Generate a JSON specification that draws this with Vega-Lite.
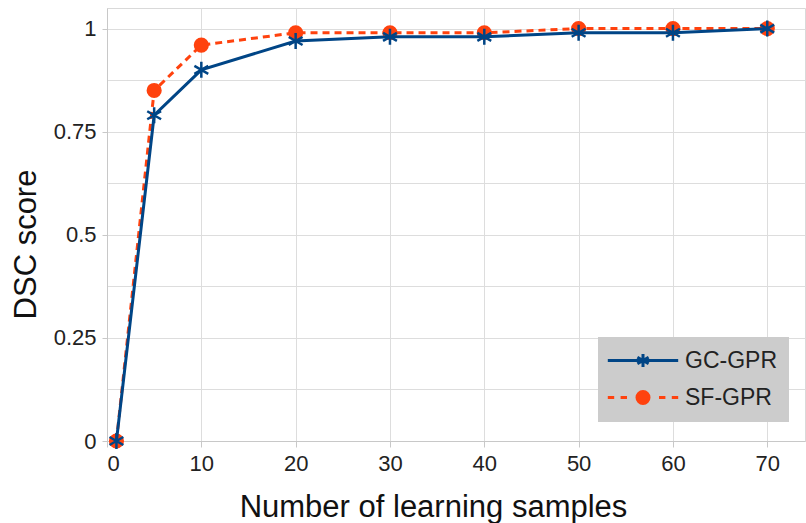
{
  "$schema": "https://vega.github.io/schema/vega-lite/v6.json",
  "width": 698,
  "height": 433,
  "autosize": {"type": "none"},
  "padding": {"left": 107, "top": 8, "right": 1, "bottom": 82},
  "background": "#ffffff",
  "config": {
    "font": "Liberation Sans",
    "view": {"stroke": "#d9d9d9", "strokeWidth": 1},
    "axis": {
      "labelFont": "Liberation Sans",
      "titleFont": "Liberation Sans",
      "labelFontSize": 22,
      "labelColor": "#222222",
      "titleColor": "#111111",
      "titleFontWeight": "normal",
      "titleFontSize": 31,
      "gridColor": "#dddddd",
      "gridWidth": 1,
      "domainColor": "#c8c8c8",
      "tickColor": "#c8c8c8",
      "tickSize": 5
    }
  },
  "data": {
    "values": [
      {"n": 1, "series": "GC-GPR", "dsc": 0},
      {"n": 5, "series": "GC-GPR", "dsc": 0.79},
      {"n": 10, "series": "GC-GPR", "dsc": 0.9},
      {"n": 20, "series": "GC-GPR", "dsc": 0.97},
      {"n": 30, "series": "GC-GPR", "dsc": 0.98},
      {"n": 40, "series": "GC-GPR", "dsc": 0.98},
      {"n": 50, "series": "GC-GPR", "dsc": 0.99},
      {"n": 60, "series": "GC-GPR", "dsc": 0.99},
      {"n": 70, "series": "GC-GPR", "dsc": 1.0},
      {"n": 1, "series": "SF-GPR", "dsc": 0},
      {"n": 5, "series": "SF-GPR", "dsc": 0.85},
      {"n": 10, "series": "SF-GPR", "dsc": 0.96},
      {"n": 20, "series": "SF-GPR", "dsc": 0.99},
      {"n": 30, "series": "SF-GPR", "dsc": 0.99},
      {"n": 40, "series": "SF-GPR", "dsc": 0.99},
      {"n": 50, "series": "SF-GPR", "dsc": 1.0},
      {"n": 60, "series": "SF-GPR", "dsc": 1.0},
      {"n": 70, "series": "SF-GPR", "dsc": 1.0}
    ]
  },
  "encoding": {
    "x": {
      "field": "n",
      "type": "quantitative",
      "scale": {"domain": [0, 74], "nice": false, "zero": false},
      "axis": {
        "title": "Number of learning samples",
        "values": [0, 10, 20, 30, 40, 50, 60, 70],
        "tickSize": 6,
        "labelPadding": 6,
        "titleX": 326,
        "titleY": 75,
        "titleAlign": "center",
        "titleBaseline": "alphabetic",
        "titleAnchor": null
      }
    },
    "y": {
      "field": "dsc",
      "type": "quantitative",
      "scale": {"domain": [0, 1.05], "nice": false},
      "axis": {
        "title": "DSC score",
        "values": [0, 0.125, 0.25, 0.375, 0.5, 0.625, 0.75, 0.875, 1],
        "labelExpr": "datum.value % 0.25 === 0 ? format(datum.value, '') : ''",
        "tickOpacity": {"condition": {"test": "datum.value % 0.25 === 0", "value": 1}, "value": 0},
        "labelPadding": 6,
        "titleX": -72,
        "titleY": 236,
        "titleAngle": -90,
        "titleAlign": "center",
        "titleBaseline": "alphabetic",
        "titleAnchor": null
      }
    },
    "color": {
      "field": "series",
      "type": "nominal",
      "scale": {"domain": ["GC-GPR", "SF-GPR"], "range": ["#004586", "#ff420e"]},
      "legend": {
        "title": null,
        "orient": "none",
        "legendX": 491,
        "legendY": 329,
        "fillColor": "#cccccc",
        "padding": 12,
        "labelFontSize": 23,
        "labelFont": "Liberation Sans",
        "labelColor": "#222222",
        "symbolSize": 256,
        "labelOffset": 52,
        "rowPadding": 12,
        "symbolStrokeWidth": 3,
        "values": ["GC-GPR", "SF-GPR"],
        "encode": {
          "symbols": {
            "update": {
              "x": {"value": 33},
              "shape": {"signal": "datum.value === 'GC-GPR' ? 'M-4.4,0L4.4,0M0,-0.8L0,0.8M-0.7,-0.4L0.7,0.4M-0.7,0.4L0.7,-0.4' : 'M-4.4,0L-3.6,0M-2.8,0L-2,0M2,0L2.8,0M3.6,0L4.4,0M-0.75,0A0.75,0.75,0,1,0,0.75,0A0.75,0.75,0,1,0,-0.75,0Z'"},
              "fill": {"signal": "datum.value === 'GC-GPR' ? 'transparent' : '#ff420e'"},
              "stroke": {"signal": "datum.value === 'GC-GPR' ? '#004586' : '#ff420e'"},
              "strokeWidth": {"value": 3},
              "strokeDash": {"value": []},
              "opacity": {"value": 1}
            }
          }
        }
      }
    }
  },
  "layer": [
    {
      "mark": {"type": "line", "strokeWidth": 3, "strokeDash": [7, 5]},
      "transform": [{"filter": "datum.series === 'SF-GPR'"}]
    },
    {
      "mark": {"type": "point", "filled": true, "shape": "circle", "size": 230, "opacity": 1},
      "transform": [{"filter": "datum.series === 'SF-GPR'"}]
    },
    {
      "mark": {"type": "line", "strokeWidth": 3},
      "transform": [{"filter": "datum.series === 'GC-GPR'"}]
    },
    {
      "mark": {"type": "point", "filled": false, "shape": "M0,-1L0,1M-0.866,-0.5L0.866,0.5M-0.866,0.5L0.866,-0.5", "size": 256, "strokeWidth": 2.5, "opacity": 1},
      "transform": [{"filter": "datum.series === 'GC-GPR'"}]
    }
  ]
}
